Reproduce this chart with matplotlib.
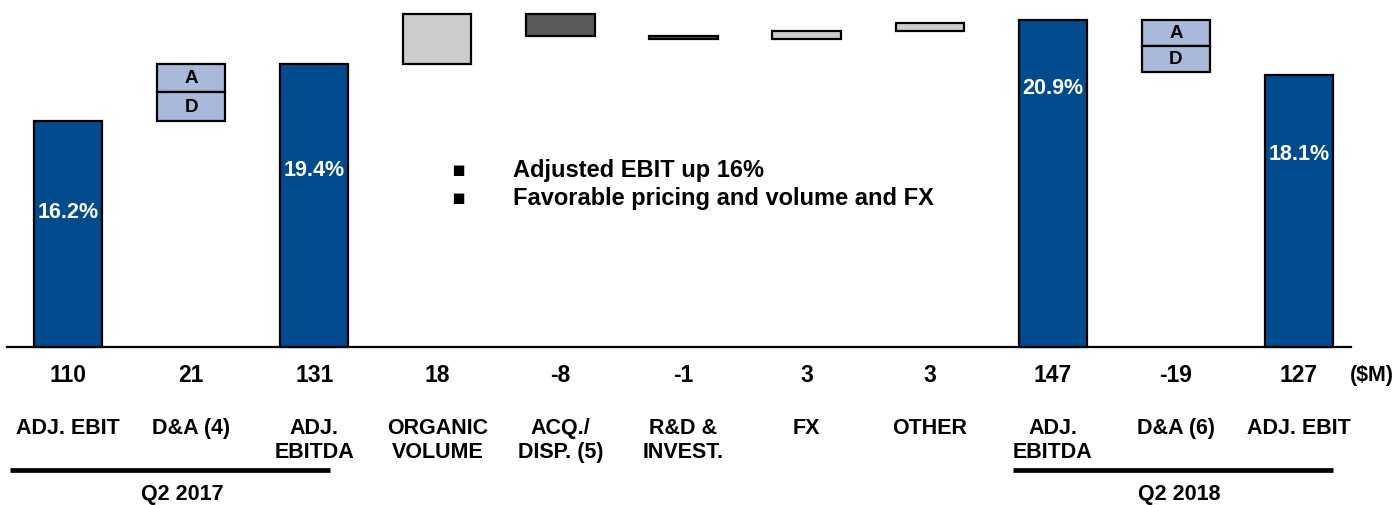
import matplotlib
matplotlib.use("Agg")
import matplotlib.pyplot as plt
import matplotlib.transforms as mtransforms
from matplotlib.patches import Rectangle

plt.rcParams['font.family'] = ['Liberation Sans', 'DejaVu Sans']

# ---- data ----
categories = ["ADJ. EBIT", "D&A (4)", "ADJ.\nEBITDA", "ORGANIC\nVOLUME", "ACQ./\nDISP. (5)",
              "R&D &\nINVEST.", "FX", "OTHER", "ADJ.\nEBITDA", "D&A (6)", "ADJ. EBIT"]
value_labels = ["110", "21", "131", "18", "-8", "-1", "3", "3", "147", "-19", "127"]
kinds = ["total", "da", "total", "step", "step", "step", "step", "step", "total", "da", "total"]
values = [110, 21, 131, 18, -8, -1, 3, 3, 147, -19, 127]
margins = ["16.2%", None, "19.4%", None, None, None, None, None, "20.9%", None, "18.1%"]
groups = ["Q2 2017", "Q2 2018"]
bullets = ["Adjusted EBIT up 16%", "Favorable pricing and volume and FX"]
unit_label = "($M)"

# ---- style / layout (pixels) ----
margin_label_px = [213, None, 170, None, None, None, None, None, 88, None, 155]
group_line_px = [(10, 330), (1013, 1333)]
group_text_px = [182, 1179]

BLUE = "#004B8D"
LIGHT = "#CCCCCC"
DARK = "#595959"
DA = "#A9B9DA"

W, H = 1395, 506
fig = plt.figure(figsize=(W / 100, H / 100), dpi=100)
base_px = 348
ax = fig.add_axes([0, (H - base_px) / H, 1, base_px / H])
spacing = 123.1
x0 = 68
ax.set_xlim(-x0 / spacing, (W - x0) / spacing)
ymin = 27.2
ax.set_ylim(ymin, ymin + base_px / 2.73)
ax.axis("off")

trans = mtransforms.blended_transform_factory(ax.transData, fig.transFigure)
def fy(px):
    return 1 - px / H
def dx(px):
    return (px - x0) / spacing

bw = 0.555
lw = 1.6
running = 0
for i, (k, v) in enumerate(zip(kinds, values)):
    if k == "total":
        ax.add_patch(Rectangle((i - bw / 2, ymin), bw, v - ymin, facecolor=BLUE,
                               edgecolor="black", linewidth=lw, clip_on=False, zorder=3))
        running = v
    elif k == "da":
        lo, hi = (running, running + v) if v > 0 else (running + v, running)
        mid = (lo + hi) / 2
        ax.add_patch(Rectangle((i - bw / 2, mid), bw, hi - mid, facecolor=DA,
                               edgecolor="black", linewidth=lw, clip_on=False, zorder=3))
        ax.add_patch(Rectangle((i - bw / 2, lo), bw, mid - lo, facecolor=DA,
                               edgecolor="black", linewidth=lw, clip_on=False, zorder=3))
        ax.text(i, (mid + hi) / 2, "A", ha="center", va="center", fontsize=13.5,
                fontweight="bold", color="black", zorder=4)
        ax.text(i, (lo + mid) / 2, "D", ha="center", va="center", fontsize=13.5,
                fontweight="bold", color="black", zorder=4)
        running = running + v
    else:
        lo, hi = (running, running + v) if v > 0 else (running + v, running)
        ax.add_patch(Rectangle((i - bw / 2, lo), bw, hi - lo,
                               facecolor=LIGHT if v > 0 else DARK,
                               edgecolor="black", linewidth=lw, clip_on=False, zorder=3))
        running = running + v

for i, (m, py) in enumerate(zip(margins, margin_label_px)):
    if m:
        ax.text(i, fy(py), m, transform=trans, ha="center", va="center",
                fontsize=15.5, fontweight="bold", color="white", zorder=5)

# baseline
ax.plot([dx(7), dx(1351)], [ymin, ymin], color="black",
        linewidth=1.6, clip_on=False, zorder=4)

for i, (vl, c) in enumerate(zip(value_labels, categories)):
    ax.text(i, fy(376), vl, transform=trans, ha="center", va="center",
            fontsize=16.5, fontweight="bold")
    ax.text(i, fy(418), c, transform=trans, ha="center", va="top",
            fontsize=15.5, fontweight="bold", linespacing=1.2)
ax.text(dx(1372), fy(376), unit_label, transform=trans, ha="center",
        va="center", fontsize=15.5, fontweight="bold")

for name, (l0, l1), tx in zip(groups, group_line_px, group_text_px):
    ax.plot([dx(l0), dx(l1)], [fy(471), fy(471)], transform=trans, color="black",
            linewidth=3.4, solid_capstyle="butt", clip_on=False)
    ax.text(dx(tx), fy(495), name, transform=trans, ha="center",
            va="center", fontsize=15.5, fontweight="bold")

for j, t in enumerate(bullets):
    y = fy(170 + 28.5 * j)
    fig.text(458 / W, y, "\u25aa", ha="center", va="center", fontsize=15,
             family=["DejaVu Sans"])
    fig.text(513 / W, y, t, ha="left", va="center", fontsize=17, fontweight="bold")

fig.savefig("out.png", dpi=100)
